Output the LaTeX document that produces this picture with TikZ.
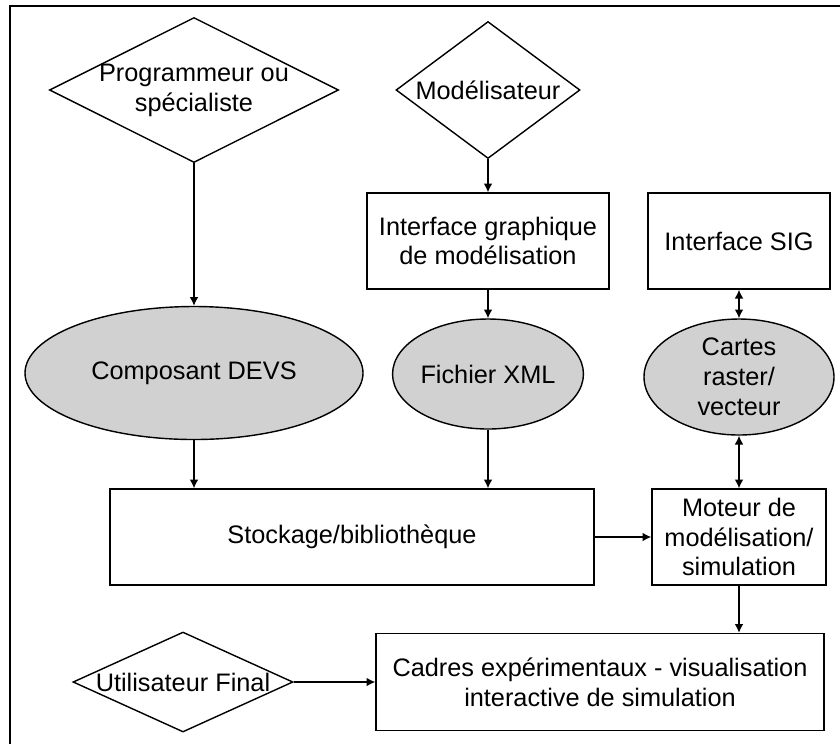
\documentclass[tikz,border=0pt]{standalone}
\usepackage{fontspec}
\setmainfont{Liberation Sans}
\usetikzlibrary{shapes.geometric,arrows.meta}

\begin{document}
\begin{tikzpicture}[
  line width=0.8pt, font=\fontsize{14.4}{17}\selectfont,
  actor/.style={diamond,draw,inner sep=0pt,aspect=2},
  bloc/.style={rectangle,draw,inner sep=2pt,align=center,minimum height=1.92cm},
  donnee/.style={ellipse,draw,fill=black!18,inner sep=0pt,align=center},
  fleche/.style={-{Latex[length=5pt,width=5pt]}},
  dfleche/.style={{Latex[length=5pt,width=5pt]}-{Latex[length=5pt,width=5pt]}}
]
  \useasboundingbox (0,0) rectangle (16.8,-14.88);
  \draw[line width=1.1pt] (0.2,-14.88) -- (0.2,-0.12) -- (16.8,-0.12);

  \node[actor,minimum width=5.78cm,minimum height=2.9cm,
    label={[align=center]center:Programmeur ou\\spécialiste}] (prog) at (3.880,-1.800) {};
  \node[actor,minimum width=3.68cm,minimum height=2.74cm,
    label=center:Modélisateur] (model) at (9.760,-1.800) {};
  \node[actor,minimum width=4.4cm,minimum height=2.0cm,
    label=center:Utilisateur Final] (user) at (3.660,-13.640) {};

  \node[bloc,minimum width=4.84cm] (igm) at (9.760,-4.820) {Interface graphique\\de modélisation};
  \node[bloc,minimum width=3.64cm] (sig) at (14.780,-4.820) {Interface SIG};
  \node[bloc,minimum width=9.68cm] (stock) at (7.040,-10.740) {Stockage/bibliothèque};
  \node[bloc,minimum width=3.48cm] (moteur) at (14.780,-10.740) {Moteur de\\modélisation/\\simulation};
  \node[bloc,minimum width=8.96cm,minimum height=1.94cm] (cadres) at (12.000,-13.640)
    {Cadres expérimentaux - visualisation\\interactive de simulation};

  \node[donnee,minimum width=6.76cm,minimum height=2.66cm] (devs) at (3.880,-7.460) {Composant DEVS};
  \node[donnee,minimum width=3.56cm,minimum height=2.2cm] (xml) at (9.760,-7.480) {Fichier XML};
  \node[donnee,minimum width=3.8cm,minimum height=2.32cm] (cartes) at (14.780,-7.540) {Cartes\\raster/\\vecteur};

  \draw[fleche] (prog) -- (devs);
  \draw[fleche] (model) -- (igm);
  \draw[fleche] (igm) -- (xml);
  \draw[dfleche] (sig) -- (cartes);
  \draw[dfleche] (cartes) -- (moteur);
  \draw[fleche] (devs.south) -- (devs.south |- stock.north);
  \draw[fleche] (xml.south) -- (xml.south |- stock.north);
  \draw[fleche] (stock) -- (moteur);
  \draw[fleche] (moteur.south) -- (moteur.south |- cadres.north);
  \draw[fleche] (user) -- (cadres);
\end{tikzpicture}
\end{document}
